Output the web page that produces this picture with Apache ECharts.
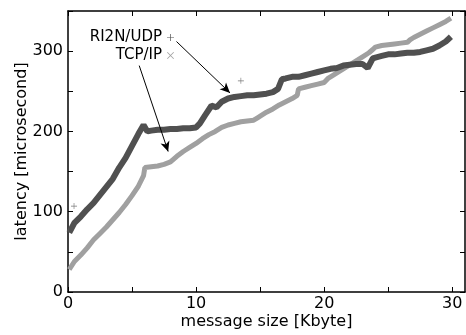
<!DOCTYPE html>
<html>
<head>
<meta charset="utf-8">
<script src="https://cdn.jsdelivr.net/npm/echarts@6/dist/echarts.min.js"></script>
<style>
html,body{margin:0;padding:0;background:#fff;}
#chart{width:466px;height:335px;}
</style>
</head>
<body>
<div id="chart"></div>
<script>
// message size [Kbyte] and latency [microsecond]
var ri2nSize = [0.1,0.5,1.0,1.5,2.0,2.5,3.0,3.5,4.0,4.5,5.0,5.5,5.9,6.2,6.5,7.0,7.5,8.0,8.5,9.0,9.5,10.0,10.3,10.7,11.2,11.6,12.0,12.5,13.0,13.5,14.0,14.5,15.0,15.5,16.0,16.4,16.7,17.0,17.5,18.0,18.5,19.0,19.5,20.0,20.5,21.0,21.5,22.0,22.5,23.0,23.4,23.8,24.0,24.5,25.0,25.5,26.0,26.5,27.0,27.5,28.0,28.5,29.0,29.5,29.9];
var ri2nLatency = [74,86,94,103,111,121,131,141,155,167,182,197,208,200,201,202,202,203,203,204,204,205,210,220,232,230,237,241,243,244,245,245,246,247,249,253,265,266,268,268,270,272,274,276,278,279,282,283,284,284,279,291,292,294,296,296,297,298,298,299,301,303,307,312,318];
var ri2nOutlierSize = [0.47,13.5];
var ri2nOutlierLatency = [107,263];

var tcpSize = [0.1,0.5,1.0,1.5,2.0,2.5,3.0,3.5,4.0,4.5,5.0,5.5,5.9,6.0,6.5,7.0,7.5,8.0,8.5,9.0,9.5,10.0,10.5,11.0,11.5,12.0,12.5,13.0,13.5,14.0,14.5,14.8,15.1,15.5,16.0,16.5,17.0,17.5,17.9,18.0,18.5,19.0,19.5,20.0,20.3,20.5,21.0,21.5,22.0,22.5,23.0,23.5,23.8,24.0,24.5,25.0,25.5,26.0,26.5,26.7,27.0,27.5,28.0,28.5,29.0,29.5,29.9];
var tcpLatency = [28,38,46,55,65,73,81,90,99,109,120,132,145,155,156,157,159,162,169,175,180,185,191,196,200,205,208,210,212,213,214,217,220,224,228,233,237,241,245,253,255,257,259,261,266,268,273,278,283,288,293,298,302,305,307,308,309,310,311,314,317,321,325,329,333,337,341];

var xTicks = [0,10,20,30];
var yTicks = [0,100,200,300];

function pairs(xs, ys){ return xs.map(function(x,i){ return [x, ys[i]]; }); }

var FONT = 'DejaVu Sans';
var plusPath = 'path://M-0.8,-8L0.8,-8L0.8,8L-0.8,8Z M-8,-0.8L8,-0.8L8,0.8L-8,0.8Z';
var crossPath = 'path://M-6.4,-5.3L-5.3,-6.4L6.4,5.3L5.3,6.4Z M5.3,-6.4L6.4,-5.3L-5.3,6.4L-6.4,5.3Z';

var chart = echarts.init(document.getElementById('chart'), null, {renderer:'canvas'});
var axisLineStyle = {color:'#000', width:1.5};
var option = {
  animation:false,
  backgroundColor:'#fff',
  grid:{left:68, right:1, top:11, bottom:42},
  legend:[
    {data:[{name:'RI2N/UDP', icon:plusPath}], right:287, top:25, align:'right', orient:'vertical',
     itemWidth:7, itemHeight:7, textStyle:{fontFamily:FONT, fontSize:15, color:'#000'}, selectedMode:false},
    {data:[{name:'TCP/IP', icon:crossPath}], right:287, top:43, align:'right', orient:'vertical',
     itemWidth:7, itemHeight:7, textStyle:{fontFamily:FONT, fontSize:15, color:'#000'}, selectedMode:false}
  ],
  xAxis:[
    {type:'value', min:0, max:31, interval:5, position:'bottom',
     name:'message size [Kbyte]', nameLocation:'middle', nameGap:22, nameMoveOverlap:false,
     nameTextStyle:{fontFamily:FONT, fontSize:16, color:'#000'},
     axisLine:{show:true, onZero:false, lineStyle:axisLineStyle},
     axisTick:{show:true, inside:true, length:5, lineStyle:{color:'#000', width:1}},
     axisLabel:{margin:4, fontFamily:FONT, fontSize:16, color:'#000', showMaxLabel:false,
       formatter:function(v){ return xTicks.indexOf(v) >= 0 ? String(v) : ''; }},
     splitLine:{show:false}},
    {type:'value', min:0, max:31, interval:5, position:'top',
     axisLine:{show:true, onZero:false, lineStyle:axisLineStyle},
     axisTick:{show:true, inside:true, length:5, lineStyle:{color:'#000', width:1}},
     axisLabel:{show:false}, splitLine:{show:false}}
  ],
  yAxis:[
    {type:'value', min:0, max:350, interval:50, position:'left',
     name:'latency [microsecond]', nameLocation:'middle', nameGap:38, nameMoveOverlap:false,
     nameTextStyle:{fontFamily:FONT, fontSize:16, color:'#000'},
     axisLine:{show:true, onZero:false, lineStyle:axisLineStyle},
     axisTick:{show:true, inside:true, length:5, lineStyle:{color:'#000', width:1}},
     axisLabel:{margin:5, fontFamily:FONT, fontSize:16, color:'#000',
       formatter:function(v){ return yTicks.indexOf(v) >= 0 ? String(v) : ''; }},
     splitLine:{show:false}},
    {type:'value', min:0, max:350, interval:50, position:'right',
     axisLine:{show:true, onZero:false, lineStyle:axisLineStyle},
     axisTick:{show:true, inside:true, length:5, lineStyle:{color:'#000', width:1}},
     axisLabel:{show:false}, splitLine:{show:false}}
  ],
  series:[
    {name:'TCP/IP', type:'line', data:pairs(tcpSize, tcpLatency), showSymbol:false, symbol:'none',
     color:'#a0a0a0', lineStyle:{color:'#a0a0a0', width:5, cap:'butt', join:'bevel'}, z:2,
     markLine:{silent:true, symbol:['none','arrow'], symbolSize:[7,10], label:{show:false},
       lineStyle:{color:'#000', width:1, type:'solid'},
       data:[[{coord:[5.56,282]},{coord:[7.82,175]}]]}},
    {name:'RI2N/UDP', type:'line', data:pairs(ri2nSize, ri2nLatency), showSymbol:false, symbol:'none',
     color:'#505050', lineStyle:{color:'#505050', width:6, cap:'butt', join:'bevel'}, z:3,
     markLine:{silent:true, symbol:['none','arrow'], symbolSize:[7,10], label:{show:false},
       lineStyle:{color:'#000', width:1, type:'solid'},
       data:[[{coord:[8.47,312]},{coord:[12.65,248]}]]}},
    {name:'RI2N/UDP', type:'scatter', data:pairs(ri2nOutlierSize, ri2nOutlierLatency),
     symbol:plusPath, symbolSize:6, color:'#505050', itemStyle:{color:'#505050'}, z:3}
  ]
};
chart.setOption(option);
</script>
</body>
</html>
